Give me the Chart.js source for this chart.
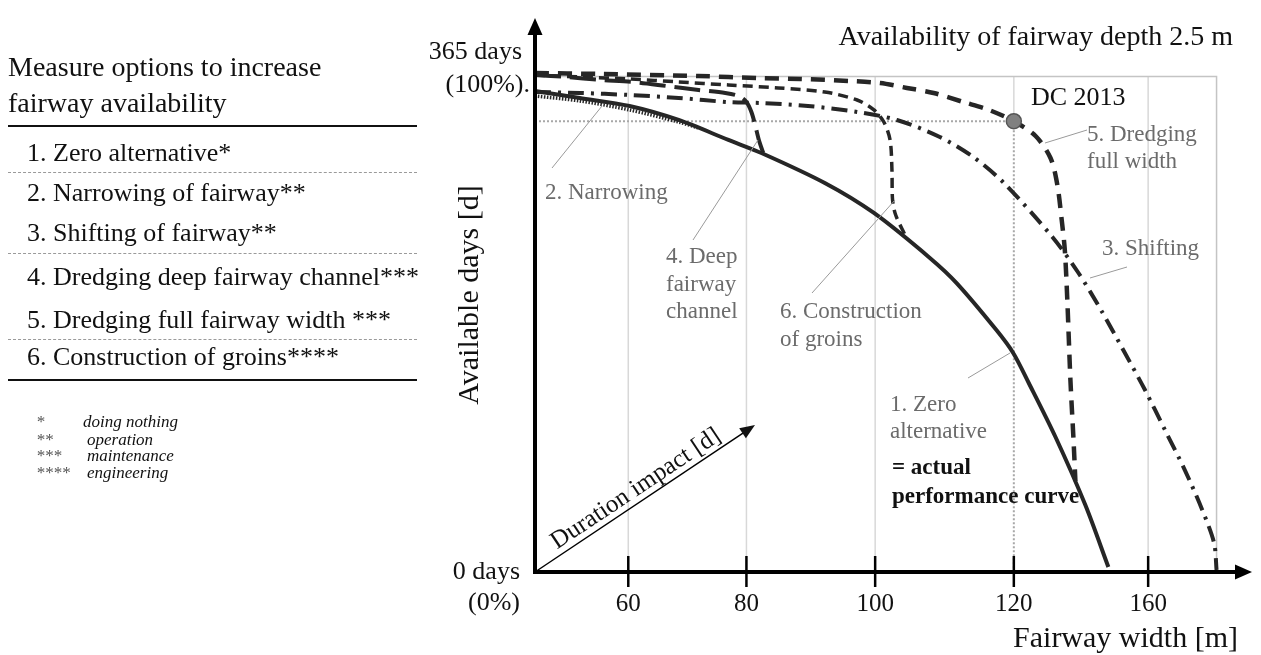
<!DOCTYPE html>
<html>
<head>
<meta charset="utf-8">
<title>Availability of fairway depth 2.5 m</title>
<script src="https://cdn.jsdelivr.net/npm/chart.js@4.4.1/dist/chart.umd.min.js"></script>
<style>
  body { margin: 0; background: #fff; }
  #wrap { position: relative; width: 1261px; height: 655px; overflow: hidden; }
  #chart { position: absolute; left: 0; top: 0; }
  #panel { position: absolute; left: 0; top: 0; width: 430px; height: 655px;
           font-family: "Liberation Serif", "Times New Roman", serif; color: #111; }
  #panel div { position: absolute; white-space: nowrap; }
  .head { left: 8px; font-size: 28px; line-height: 36px; }
  .item { left: 27px; font-size: 26px; line-height: 26px; }
  .rule { left: 8px; width: 409px; height: 0; }
  .thick { border-top: 2.5px solid #111; }
  .thin { border-top: 1px dashed #9a9a9a; }
  .star { left: 36px; font-size: 17px; line-height: 17px; font-style: italic; color: #555; }
  .note { font-size: 17px; line-height: 17px; font-style: italic; }
</style>
</head>
<body>
<div id="wrap">
  <canvas id="chart" width="1261" height="655"></canvas>
  <div id="panel"></div>
</div>
<script>
// ===== Data =====
// x: fairway width [m] (schematic axis), y: available days per year

const xTickAt = [60, 79, 99.7, 122, 143.6];
const xTickLabels = ['60', '80', '100', '120', '160'];
const yTickAt = [0, 365];
const yTickLabels = [['0 days', '(0%)'], ['365 days', '(100%).']];
const xFrameEnd = 154.6;

const dc2013 = [{ x: 122, y: 332 }];

const zeroAlternative = [
  { x: 45, y: 354.2 }, { x: 52.2, y: 349.1 }, { x: 60.2, y: 343.2 }, { x: 68.1, y: 332.9 },
  { x: 76.1, y: 318.2 }, { x: 81.4, y: 308.6 }, { x: 91.6, y: 286.5 }, { x: 99.5, y: 264.4 },
  { x: 108.5, y: 231.3 }, { x: 112.8, y: 212.8 }, { x: 119.2, y: 178.2 }, { x: 121.9, y: 161.3 },
  { x: 124.4, y: 139.2 }, { x: 128.7, y: 99.4 }, { x: 133.5, y: 49.3 }, { x: 137.2, y: 3.7 }
];

const narrowing = [
  { x: 45, y: 350.6 }, { x: 52.2, y: 346.9 }, { x: 60.2, y: 340.3 }, { x: 68.1, y: 331.4 },
  { x: 71.3, y: 327.0 }
];

const shifting = [
  { x: 45, y: 353.5 }, { x: 52.2, y: 352.8 }, { x: 60.2, y: 351.3 }, { x: 68.1, y: 349.1 },
  { x: 76.1, y: 346.1 }, { x: 81.4, y: 345.4 }, { x: 88.9, y: 343.2 }, { x: 96.8, y: 338.8 },
  { x: 103.2, y: 332.9 }, { x: 110.1, y: 320.4 }, { x: 115.5, y: 305.6 }, { x: 120.4, y: 286.5 },
  { x: 128.2, y: 246.7 }, { x: 132.4, y: 220.2 }, { x: 136.2, y: 191.5 }, { x: 139.6, y: 163.5 },
  { x: 143.1, y: 134.0 }, { x: 146.3, y: 104.6 }, { x: 149.5, y: 75.1 }, { x: 152.3, y: 45.7 },
  { x: 154.2, y: 21.4 }, { x: 154.6, y: 1.5 }
];

const deepChannel = [
  { x: 45, y: 366.0 }, { x: 50.1, y: 364.6 }, { x: 55.4, y: 362.4 }, { x: 60.6, y: 360.9 },
  { x: 66.2, y: 357.9 }, { x: 71.3, y: 355.0 }, { x: 75.6, y: 352.8 }, { x: 77.7, y: 350.6 },
  { x: 79.0, y: 346.2 }, { x: 79.8, y: 338.8 }, { x: 80.4, y: 329.2 }, { x: 81.0, y: 318.2 },
  { x: 81.7, y: 308.6 }
];

const dredgingFull = [
  { x: 45, y: 367.5 }, { x: 55.4, y: 366.8 }, { x: 71.3, y: 365.3 }, { x: 80.9, y: 363.8 },
  { x: 87.7, y: 363.1 }, { x: 95.7, y: 361.6 }, { x: 100.5, y: 360.1 }, { x: 104.8, y: 356.5 },
  { x: 109.1, y: 352.8 }, { x: 113.9, y: 346.1 }, { x: 118.0, y: 340.3 }, { x: 122.0, y: 332.0 },
  { x: 125.5, y: 321.1 }, { x: 127.9, y: 304.9 }, { x: 129.0, y: 285.0 }, { x: 129.7, y: 259.2 },
  { x: 130.2, y: 237.1 }, { x: 130.6, y: 200.3 }, { x: 131.1, y: 141.4 }, { x: 131.6, y: 97.2 },
  { x: 131.9, y: 67.0 }
];

const groins = [
  { x: 45, y: 366.0 }, { x: 52.2, y: 364.6 }, { x: 60.2, y: 363.1 }, { x: 68.1, y: 360.9 },
  { x: 76.1, y: 358.7 }, { x: 84.1, y: 356.5 }, { x: 91.6, y: 353.5 }, { x: 96.8, y: 347.6 },
  { x: 99.5, y: 340.3 }, { x: 101.1, y: 331.4 }, { x: 102.1, y: 318.2 }, { x: 102.4, y: 296.1 },
  { x: 102.5, y: 274.0 }, { x: 103.0, y: 262.9 }, { x: 104.5, y: 248.2 }
];

// ===== Side panel (measure list) =====
const measures = [
  '1. Zero alternative*', '2. Narrowing of fairway**', '3. Shifting of fairway**',
  '4. Dredging deep fairway channel***', '5. Dredging full fairway width ***',
  '6. Construction of groins****'
];
const footnotes = [['*', 'doing nothing'], ['**', 'operation'], ['***', 'maintenance'], ['****', 'engineering']];

const panel = document.getElementById('panel');
function addDiv(cls, top, html, extra) {
  const d = document.createElement('div');
  d.className = cls;
  d.style.top = top + 'px';
  if (extra) Object.assign(d.style, extra);
  d.innerHTML = html;
  panel.appendChild(d);
}
addDiv('head', 49, 'Measure options to increase<br>fairway availability');
addDiv('rule thick', 125, '');
const itemTop = [140, 180, 220, 264, 307, 344];
measures.forEach((m, i) => addDiv('item', itemTop[i], m));
[172, 253, 339].forEach(t => addDiv('rule thin', t, ''));
addDiv('rule thick', 379, '');
const noteTop = [413, 431, 447, 464];
footnotes.forEach(([s, t], i) => {
  addDiv('star', noteTop[i], s);
  addDiv('note', noteTop[i], t, { left: (i === 0 ? 83 : 87) + 'px' });
});

// ===== Chart =====
const ink = '#262626';
const serif = '"Liberation Serif", "Times New Roman", serif';

function seg(ctx, x1, y1, x2, y2) {
  ctx.beginPath(); ctx.moveTo(x1, y1); ctx.lineTo(x2, y2); ctx.stroke();
}
function text(ctx, lines, x, y, lh) {
  lines.forEach((t, i) => ctx.fillText(t, x, y + i * lh));
}

// frame, axes with arrows and all annotation text
const frame = {
  id: 'frame',
  beforeDatasetsDraw(chart) {
    const { ctx, scales: { x, y } } = chart;
    const top = y.getPixelForValue(365), base = y.getPixelForValue(0);
    const dcX = x.getPixelForValue(dc2013[0].x), dcY = y.getPixelForValue(dc2013[0].y);
    const right = x.getPixelForValue(xFrameEnd);
    ctx.save();
    ctx.lineWidth = 1.5;
    ctx.strokeStyle = '#d8d8d8';
    xTickAt.forEach(v => {
      const px = x.getPixelForValue(v);
      seg(ctx, px, top, px, v === dc2013[0].x ? dcY : base);
    });
    ctx.strokeStyle = '#c4c4c4';
    ctx.beginPath();
    ctx.moveTo(x.left, top); ctx.lineTo(right, top); ctx.lineTo(right, base);
    ctx.stroke();
    // DC 2013 guides
    ctx.strokeStyle = '#a8a8a8';
    ctx.lineWidth = 2;
    ctx.setLineDash([2, 2]);
    ctx.beginPath();
    ctx.moveTo(x.left, dcY); ctx.lineTo(dcX, dcY); ctx.lineTo(dcX, base);
    ctx.stroke();
    ctx.restore();
  },
  afterDatasetsDraw(chart) {
    const { ctx, scales: { x, y } } = chart;
    const ox = x.left, oy = y.getPixelForValue(0);
    ctx.save();

    // axes
    ctx.strokeStyle = '#000'; ctx.fillStyle = '#000';
    ctx.lineWidth = 4;
    seg(ctx, ox, oy + 2, ox, y.top + 16);
    seg(ctx, ox - 2, oy, x.right - 14, oy);
    ctx.beginPath();
    ctx.moveTo(ox, y.top); ctx.lineTo(ox - 7.5, y.top + 17); ctx.lineTo(ox + 7.5, y.top + 17); ctx.closePath(); ctx.fill();
    ctx.beginPath();
    ctx.moveTo(x.right, oy); ctx.lineTo(x.right - 17, oy - 7.5); ctx.lineTo(x.right - 17, oy + 7.5); ctx.closePath(); ctx.fill();
    ctx.lineWidth = 2.5;
    xTickAt.forEach(v => {
      const px = x.getPixelForValue(v);
      seg(ctx, px, oy - 16, px, oy + 15);
    });

    // y tick labels
    ctx.textBaseline = 'middle';
    ctx.textAlign = 'right';
    ctx.font = '26px ' + serif;
    ctx.fillStyle = '#111';
    yTickAt.forEach((v, i) => {
      const py = y.getPixelForValue(v);
      if (v === 0) text(ctx, yTickLabels[i], ox - 15, py, 31);
      else {
        ctx.fillText(yTickLabels[i][0], ox - 13, py - 24);
        ctx.fillText(yTickLabels[i][1], ox - 5, py + 9);
      }
    });

    // axis titles and chart title
    ctx.font = '30px ' + serif;
    ctx.fillText('Fairway width [m]', 1238, 639);
    ctx.save();
    ctx.translate(470, 295);
    ctx.rotate(-Math.PI / 2);
    ctx.textAlign = 'center';
    ctx.fillText('Available days [d]', 0, 0);
    ctx.restore();
    ctx.font = '28px ' + serif;
    ctx.fillText('Availability of fairway depth 2.5 m', 1233, 38);

    // duration impact arrow
    const ax = 755, ay = 425;
    const ang = Math.atan2(ay - oy, ax - ox);
    ctx.lineWidth = 1.5;
    seg(ctx, ox, oy, ax - 10 * Math.cos(ang), ay - 10 * Math.sin(ang));
    ctx.beginPath();
    ctx.moveTo(ax, ay);
    ctx.lineTo(ax - 15 * Math.cos(ang) + 6 * Math.sin(ang), ay - 15 * Math.sin(ang) - 6 * Math.cos(ang));
    ctx.lineTo(ax - 15 * Math.cos(ang) - 6 * Math.sin(ang), ay - 15 * Math.sin(ang) + 6 * Math.cos(ang));
    ctx.closePath(); ctx.fill();
    ctx.save();
    ctx.translate(636, 489);
    ctx.rotate(ang);
    ctx.textAlign = 'center';
    ctx.font = '25px ' + serif;
    ctx.fillText('Duration impact [d]', 0, 0);
    ctx.restore();

    // leader lines
    ctx.strokeStyle = '#9a9a9a';
    ctx.lineWidth = 1;
    [[552, 168, 602, 106], [693, 240, 758, 140], [812, 293, 895, 200],
     [968, 378, 1010, 353], [1045, 143, 1087, 130], [1090, 278, 1127, 267]]
      .forEach(l => seg(ctx, ...l));

    // curve labels
    ctx.textAlign = 'left';
    ctx.font = '23px ' + serif;
    ctx.fillStyle = '#6b6b6b';
    text(ctx, ['2. Narrowing'], 545, 193, 0);
    text(ctx, ['4. Deep', 'fairway', 'channel'], 666, 257, 27.5);
    text(ctx, ['6. Construction', 'of groins'], 780, 312, 28);
    text(ctx, ['1. Zero', 'alternative'], 890, 405, 27);
    text(ctx, ['5. Dredging', 'full width'], 1087, 135, 27);
    text(ctx, ['3. Shifting'], 1102, 249, 0);
    ctx.fillStyle = '#111';
    ctx.font = 'bold 23px ' + serif;
    text(ctx, ['= actual', 'performance curve'], 892, 468, 29);
    ctx.font = '26px ' + serif;
    ctx.fillText('DC 2013', 1031, 98);

    ctx.restore();
  }
};

const curve = { showLine: true, pointRadius: 0, tension: 0.3, borderColor: ink, borderCapStyle: 'butt' };

new Chart(document.getElementById('chart'), {
  type: 'scatter',
  data: {
    datasets: [
      { label: 'DC 2013', data: dc2013, showLine: false, pointRadius: 7.5,
        pointBackgroundColor: '#808080', pointBorderColor: '#555', pointBorderWidth: 1.5 },
      { ...curve, label: '1. Zero alternative', data: zeroAlternative, borderWidth: 4 },
      { ...curve, label: '2. Narrowing', data: narrowing, borderWidth: 3.5, borderDash: [1.5, 1.5] },
      { ...curve, label: '3. Shifting', data: shifting, borderWidth: 4, borderDash: [16, 7, 3, 7] },
      { ...curve, label: '4. Deep fairway channel', data: deepChannel, borderWidth: 4, borderDash: [26, 9] },
      { ...curve, label: '5. Dredging full width', data: dredgingFull, borderWidth: 4.5, borderDash: [14, 9] },
      { ...curve, label: '6. Construction of groins', data: groins, borderWidth: 3.5, borderDash: [10, 6] }
    ]
  },
  options: {
    responsive: false,
    animation: false,
    layout: { padding: { top: 18, right: 3, left: 0, bottom: 0 } },
    plugins: { legend: { display: false }, tooltip: { enabled: false } },
    scales: {
      x: {
        type: 'linear', min: 45, max: 160.3,
        grid: { display: false, drawTicks: false }, border: { display: false },
        afterBuildTicks: s => { s.ticks = xTickAt.map(v => ({ value: v })); },
        afterFit: s => { s.height = 83; },
        ticks: {
          callback: (v, i) => xTickLabels[i],
          font: { family: serif, size: 25 }, color: '#111',
          padding: 17, maxRotation: 0, autoSkip: false
        }
      },
      y: {
        min: 0, max: 408,
        grid: { display: false, drawTicks: false }, border: { display: false },
        ticks: { display: false },
        afterFit: s => { s.width = 535; }
      }
    }
  },
  plugins: [frame]
});
</script>
</body>
</html>
